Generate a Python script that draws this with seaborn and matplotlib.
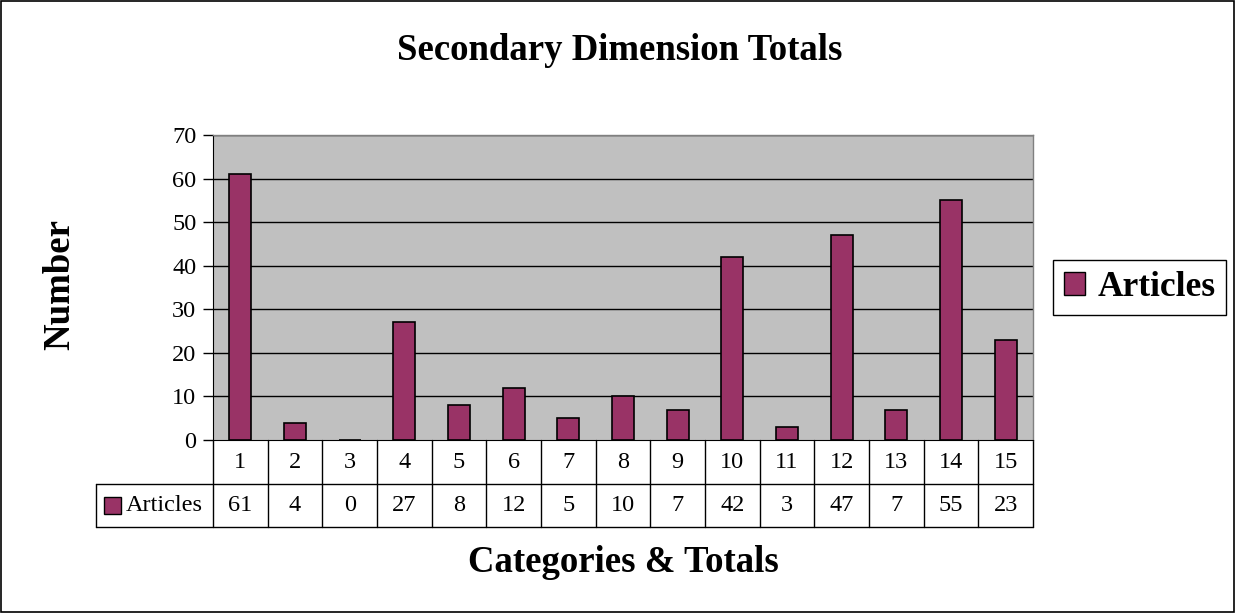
import matplotlib
matplotlib.use("Agg")
import matplotlib.pyplot as plt
import matplotlib.transforms as mtransforms
from matplotlib.patches import Rectangle
import seaborn as sns
import pandas as pd

categories = [str(i) for i in range(1, 16)]
articles = [61, 4, 0, 27, 8, 12, 5, 10, 7, 42, 3, 47, 7, 55, 23]
series_name = "Articles"
title = "Secondary Dimension Totals"
ylabel = "Number"
xlabel = "Categories & Totals"
yticks = [0, 10, 20, 30, 40, 50, 60, 70]

sns.set_style("white")
plt.rcParams['font.family'] = ['Liberation Serif', 'DejaVu Serif']
plt.rcParams['text.color'] = 'black'
plt.rcParams['axes.labelcolor'] = 'black'
plt.rcParams['ytick.color'] = 'black'
plt.rcParams['xtick.color'] = 'black'

BAR = "#993366"
GRAY = "#C0C0C0"
FS = 17.5
FB = 26.5

df = pd.DataFrame({"cat": categories, "val": articles})

fig = plt.figure(figsize=(12.35, 6.13), dpi=100)
ax = fig.add_axes([213/1235, 1-440/613, 820/1235, 305/613])
ax.set_facecolor(GRAY)
sns.barplot(data=df, x="cat", y="val", color=BAR, width=0.4,
            edgecolor="black", linewidth=1.2, saturation=1, ax=ax, zorder=3)
for p in ax.patches:
    p.set_facecolor(BAR)
ax.set_ylim(0, 70)
ax.set_xlim(-0.5, 14.5)
ax.set_yticks(yticks)
ax.set_yticklabels([str(t) for t in yticks], fontsize=FS)
ax.tick_params(axis='y', length=7, width=1, color='black', direction='out', pad=5, left=True)
ax.set_xticks([])
ax.set_xlabel("")
ax.set_ylabel("")
for t in yticks[1:]:
    ax.axhline(t, color="black", lw=1, zorder=1)
for side in ["top", "right"]:
    ax.spines[side].set_color("#808080")
    ax.spines[side].set_linewidth(1)
ax.spines["left"].set_color("black")
ax.spines["bottom"].set_color("black")
ax.spines["bottom"].set_zorder(5)

# data table
trans = mtransforms.blended_transform_factory(ax.transData, ax.transAxes)
r1 = -44/305
r2 = -87/305
left_frac = (96-213)/820
lw = 1
ax.plot([left_frac, 1], [r1, r1], transform=ax.transAxes, color="black", lw=lw, clip_on=False)
ax.plot([left_frac, 1], [r2, r2], transform=ax.transAxes, color="black", lw=lw, clip_on=False)
ax.plot([left_frac, left_frac], [r1, r2], transform=ax.transAxes, color="black", lw=lw, clip_on=False)
for i in range(16):
    ax.plot([i-0.5, i-0.5], [0, r2], transform=trans, color="black", lw=lw, clip_on=False)
for i, (c, v) in enumerate(zip(categories, articles)):
    ax.text(i, r1/2, c, transform=trans, ha="center", va="center", fontsize=FS)
    ax.text(i, (r1+r2)/2, str(v), transform=trans, ha="center", va="center", fontsize=FS)
# legend key in table
ax.add_patch(Rectangle(((104-213)/820, (r1+r2)/2 - 8.5/305), 17/820, 17/305,
                       transform=ax.transAxes, facecolor=BAR, edgecolor="black", lw=1, clip_on=False))
ax.text((126-213)/820, (r1+r2)/2, series_name, transform=ax.transAxes,
        ha="left", va="center", fontsize=FS)

fig.text(620/1235, 1-50/613, title, ha="center", va="center", fontsize=FB, fontweight="bold")
fig.text(60/1235, 1-285/613, ylabel, ha="center", va="center", rotation=90, fontsize=FB, fontweight="bold")
fig.text(623/1235, 1-563/613, xlabel, ha="center", va="center", fontsize=FB, fontweight="bold")

handle = Rectangle((0, 0), 1, 1, facecolor=BAR, edgecolor="black", lw=1)
leg = fig.legend([handle], [series_name], loc="center", bbox_to_anchor=(1139.5/1235, 1-287.5/613),
                 frameon=True, fancybox=False, edgecolor="black", framealpha=1,
                 prop={"size": 25.5, "weight": "bold"}, handlelength=0.6, handleheight=0.6,
                 handletextpad=0.35, borderpad=0.3, borderaxespad=0)
leg.get_frame().set_linewidth(1)

fig.patches.append(Rectangle((1/1235, 1/613), 1-2/1235, 1-2/613, transform=fig.transFigure,
                             fill=False, edgecolor="black", lw=1.2))

fig.savefig("out.png", dpi=100, facecolor="white")
